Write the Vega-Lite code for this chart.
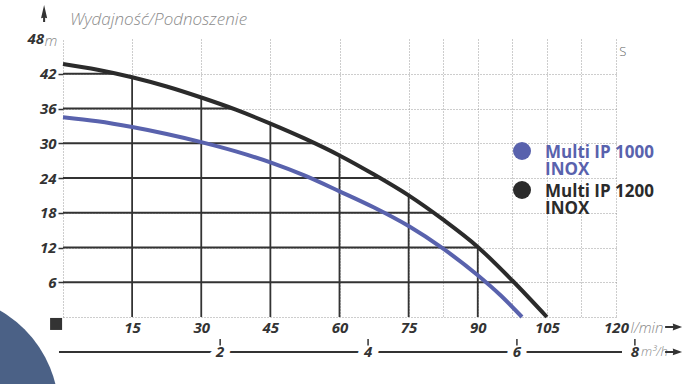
{
  "$schema": "https://vega.github.io/schema/vega-lite/v6.json",
  "width": 553,
  "height": 278,
  "autosize": {"type": "none"},
  "padding": {"left": 63, "top": 39, "right": 72, "bottom": 67},
  "background": "white",
  "config": {"view": {"stroke": null}, "font": "Open Sans"},
  "datasets": {
    "curves": [
      {"series": "Multi IP 1200 INOX", "q": 0, "h": 43.7},
      {"series": "Multi IP 1200 INOX", "q": 7.5, "h": 42.7},
      {"series": "Multi IP 1200 INOX", "q": 15, "h": 41.4},
      {"series": "Multi IP 1200 INOX", "q": 22.5, "h": 39.8},
      {"series": "Multi IP 1200 INOX", "q": 30, "h": 37.9},
      {"series": "Multi IP 1200 INOX", "q": 37.5, "h": 35.8},
      {"series": "Multi IP 1200 INOX", "q": 45, "h": 33.4},
      {"series": "Multi IP 1200 INOX", "q": 52.5, "h": 30.8},
      {"series": "Multi IP 1200 INOX", "q": 60, "h": 27.9},
      {"series": "Multi IP 1200 INOX", "q": 67.5, "h": 24.6},
      {"series": "Multi IP 1200 INOX", "q": 75, "h": 21.0},
      {"series": "Multi IP 1200 INOX", "q": 82.5, "h": 16.8},
      {"series": "Multi IP 1200 INOX", "q": 90, "h": 12.1},
      {"series": "Multi IP 1200 INOX", "q": 97.5, "h": 6.3},
      {"series": "Multi IP 1200 INOX", "q": 105, "h": 0},
      {"series": "Multi IP 1000 INOX", "q": 0, "h": 34.5},
      {"series": "Multi IP 1000 INOX", "q": 7.5, "h": 33.8},
      {"series": "Multi IP 1000 INOX", "q": 15, "h": 32.8},
      {"series": "Multi IP 1000 INOX", "q": 22.5, "h": 31.6},
      {"series": "Multi IP 1000 INOX", "q": 30, "h": 30.2},
      {"series": "Multi IP 1000 INOX", "q": 37.5, "h": 28.6},
      {"series": "Multi IP 1000 INOX", "q": 45, "h": 26.7},
      {"series": "Multi IP 1000 INOX", "q": 52.5, "h": 24.4},
      {"series": "Multi IP 1000 INOX", "q": 60, "h": 21.7},
      {"series": "Multi IP 1000 INOX", "q": 67.5, "h": 18.9},
      {"series": "Multi IP 1000 INOX", "q": 75, "h": 15.7},
      {"series": "Multi IP 1000 INOX", "q": 82.5, "h": 11.8},
      {"series": "Multi IP 1000 INOX", "q": 90, "h": 7.2},
      {"series": "Multi IP 1000 INOX", "q": 95, "h": 3.7},
      {"series": "Multi IP 1000 INOX", "q": 99.6, "h": 0}
    ],
    "vgrid": [
      {"q": 15, "top": 41.4},
      {"q": 30, "top": 37.9},
      {"q": 45, "top": 33.4},
      {"q": 60, "top": 27.9},
      {"q": 75, "top": 21.0},
      {"q": 90, "top": 12.1}
    ],
    "hgrid": [
      {"h": 6, "right": 97.9},
      {"h": 12, "right": 90.2},
      {"h": 18, "right": 80.3},
      {"h": 24, "right": 69.0},
      {"h": 30, "right": 54.4},
      {"h": 36, "right": 36.6},
      {"h": 42, "right": 11.8}
    ],
    "m3h": [
      {"v": "2", "q": 34.1},
      {"v": "4", "q": 66.2},
      {"v": "6", "q": 98.5},
      {"v": "8", "q": 124.1}
    ]
  },
  "layer": [
    {
      "data": {"values": [{}]},
      "mark": {"type": "point", "shape": "circle", "filled": true, "opacity": 1, "color": "#4b6186", "size": 54756, "clip": false},
      "encoding": {"x": {"datum": -26.3}, "y": {"datum": -16.4}}
    },
    {
      "data": {"name": "vgrid"},
      "mark": {"type": "rule", "color": "#333333", "strokeWidth": 1.8, "clip": false},
      "encoding": {
        "x": {"field": "q", "type": "quantitative"},
        "y": {"field": "top", "type": "quantitative"},
        "y2": {"datum": 0}
      }
    },
    {
      "data": {"name": "hgrid"},
      "mark": {"type": "rule", "color": "#333333", "strokeWidth": 1.8, "clip": false},
      "encoding": {
        "y": {"field": "h", "type": "quantitative"},
        "x": {"field": "right", "type": "quantitative"},
        "x2": {"datum": 0}
      }
    },
    {
      "data": {"name": "curves"},
      "mark": {"type": "line", "strokeWidth": 4, "interpolate": "monotone", "clip": false},
      "encoding": {
        "x": {
          "field": "q",
          "type": "quantitative",
          "scale": {"domain": [0, 120], "nice": false, "zero": false},
          "axis": {
            "values": [15, 30, 45, 60, 75, 82.5, 90, 97.5, 105, 112.5, 120],
            "labelExpr": "datum.value % 15 == 0 ? datum.label : ''",
            "ticks": false,
            "tickSize": 0,
            "labelPadding": 3,
            "labelFont": "Open Sans",
            "labelFontSize": 15,
            "labelFontStyle": "italic",
            "labelFontWeight": "bold",
            "labelColor": "#333333",
            "labelFlush": false,
            "labelOverlap": false,
            "domain": true,
            "domainColor": "#9a9a9a",
            "domainDash": [1, 2],
            "domainWidth": 1,
            "grid": true,
            "gridColor": "#9a9a9a",
            "gridDash": [1, 2],
            "gridWidth": 1,
            "title": "l/min",
            "titleX": 567,
            "titleY": 10,
            "titleAlign": "left",
            "titleBaseline": "middle",
            "titleFont": "Open Sans",
            "titleFontSize": 15,
            "titleFontStyle": "italic",
            "titleFontWeight": 300,
            "titleColor": "#8a8a8a"
          }
        },
        "y": {
          "field": "h",
          "type": "quantitative",
          "scale": {"domain": [0, 48], "nice": false},
          "axis": {
            "values": [6, 12, 18, 24, 30, 36, 42],
            "ticks": true,
            "tickSize": 5,
            "tickColor": "#333333",
            "tickWidth": 1.5,
            "labelPadding": 2,
            "labelFont": "Open Sans",
            "labelFontSize": 15,
            "labelFontStyle": "italic",
            "labelFontWeight": "bold",
            "labelColor": "#333333",
            "labelFlush": false,
            "labelOverlap": false,
            "domain": true,
            "domainColor": "#9a9a9a",
            "domainDash": [1, 2],
            "domainWidth": 1,
            "grid": true,
            "gridColor": "#9a9a9a",
            "gridDash": [1, 2],
            "gridWidth": 1,
            "title": "m",
            "titleAngle": 0,
            "titleX": -19,
            "titleY": 1,
            "titleAlign": "left",
            "titleBaseline": "middle",
            "titleFont": "Open Sans",
            "titleFontSize": 15,
            "titleFontStyle": "italic",
            "titleFontWeight": 300,
            "titleColor": "#8a8a8a"
          }
        },
        "color": {
          "field": "series",
          "type": "nominal",
          "scale": {"domain": ["Multi IP 1000 INOX", "Multi IP 1200 INOX"], "range": ["#5962ad", "#2b2b2b"]},
          "legend": {
            "orient": "none",
            "legendX": 450,
            "legendY": 103,
            "title": null,
            "symbolType": "circle",
            "symbolSize": 324,
            "symbolStrokeWidth": 0,
            "labelFont": "Open Sans",
            "labelFontSize": 17,
            "labelFontWeight": "bold",
            "labelBaseline": "top",
            "labelOffset": 14,
            "rowPadding": 3,
            "labelExpr": "datum.label == 'Multi IP 1000 INOX' ? ['Multi IP 1000', 'INOX'] : ['Multi IP 1200', 'INOX']",
            "encode": {
              "symbols": {"update": {"fill": {"scale": "color", "field": "value"}, "stroke": {"value": "transparent"}, "opacity": {"value": 1}}},
              "labels": {"update": {"fill": {"signal": "datum.value == 'Multi IP 1000 INOX' ? '#5962ad' : '#2b2b2b'"}, "lineHeight": {"value": 17}, "dy": {"value": -6}}}
            }
          }
        }
      }
    },
    {
      "data": {"values": [{}]},
      "mark": {"type": "text", "text": "48", "font": "Open Sans", "fontSize": 15, "fontStyle": "italic", "fontWeight": "bold", "color": "#333333", "align": "right", "baseline": "middle", "dx": -19, "clip": false},
      "encoding": {"x": {"datum": 0}, "y": {"datum": 48}}
    },
    {
      "data": {"values": [{}]},
      "mark": {"type": "text", "text": "Wydajność/Podnoszenie", "font": "Open Sans", "fontSize": 17, "fontStyle": "italic", "fontWeight": 300, "color": "#8c8c8c", "align": "left", "baseline": "middle", "clip": false},
      "encoding": {"x": {"datum": 1.5}, "y": {"datum": 51.3}}
    },
    {
      "data": {"values": [{}]},
      "mark": {"type": "rule", "color": "#333333", "strokeWidth": 2, "clip": false},
      "encoding": {"x": {"datum": -0.87}, "x2": {"datum": 121.3}, "y": {"datum": -6.03}}
    },
    {
      "data": {"name": "m3h"},
      "transform": [{"filter": "datum.v != '8'"}],
      "mark": {"type": "text", "font": "Open Sans", "fontSize": 15, "fontStyle": "italic", "fontWeight": "bold", "fill": "white", "stroke": "white", "strokeWidth": 12, "baseline": "middle", "clip": false},
      "encoding": {"x": {"field": "q", "type": "quantitative"}, "y": {"datum": -6.03}, "text": {"field": "v", "type": "nominal"}}
    },
    {
      "data": {"name": "m3h"},
      "mark": {"type": "rule", "color": "#333333", "strokeWidth": 1.5, "clip": false},
      "encoding": {"x": {"field": "q", "type": "quantitative"}, "y": {"datum": -3.8}, "y2": {"datum": -4.9}}
    },
    {
      "data": {"name": "m3h"},
      "mark": {"type": "text", "font": "Open Sans", "fontSize": 15, "fontStyle": "italic", "fontWeight": "bold", "color": "#333333", "baseline": "middle", "clip": false},
      "encoding": {"x": {"field": "q", "type": "quantitative"}, "y": {"datum": -6.03}, "text": {"field": "v", "type": "nominal"}}
    },
    {
      "data": {"values": [{}]},
      "mark": {"type": "text", "text": "m³/h", "font": "Open Sans", "fontSize": 13, "fontStyle": "italic", "fontWeight": 300, "color": "#8a8a8a", "align": "left", "baseline": "middle", "clip": false},
      "encoding": {"x": {"datum": 125.4}, "y": {"datum": -6.03}}
    },
    {
      "data": {"values": [{}]},
      "mark": {"type": "point", "shape": "square", "filled": true, "opacity": 1, "color": "#333333", "size": 144, "clip": false},
      "encoding": {"x": {"datum": -1.5}, "y": {"datum": -1.2}}
    },
    {
      "data": {"values": [{}]},
      "mark": {"type": "point", "shape": "M0,-1L0.36,0.55L0.12,0.5L0.12,1L-0.12,1L-0.12,0.5L-0.36,0.55Z", "filled": true, "opacity": 1, "color": "#333333", "size": 289, "clip": false},
      "encoding": {"x": {"datum": -4.1}, "y": {"datum": 52.4}}
    },
    {
      "data": {"values": [{}]},
      "mark": {"type": "point", "shape": "M1,0L-0.1,-0.4L-0.05,-0.12L-1,-0.12L-1,0.12L-0.05,0.12L-0.1,0.4Z", "filled": true, "opacity": 1, "color": "#333333", "size": 289, "clip": false},
      "encoding": {"x": {"datum": 132.5}, "y": {"datum": -1.73}}
    },
    {
      "data": {"values": [{}]},
      "mark": {"type": "point", "shape": "M1,0L-0.1,-0.4L-0.05,-0.12L-1,-0.12L-1,0.12L-0.05,0.12L-0.1,0.4Z", "filled": true, "opacity": 1, "color": "#333333", "size": 289, "clip": false},
      "encoding": {"x": {"datum": 132.5}, "y": {"datum": -6.03}}
    },
    {
      "data": {"values": [{}]},
      "mark": {"type": "text", "text": "S", "font": "Open Sans", "fontSize": 13, "fontWeight": 300, "color": "#666666", "align": "left", "baseline": "middle", "clip": false},
      "encoding": {"x": {"datum": 120.7}, "y": {"datum": 45.8}}
    }
  ]
}
